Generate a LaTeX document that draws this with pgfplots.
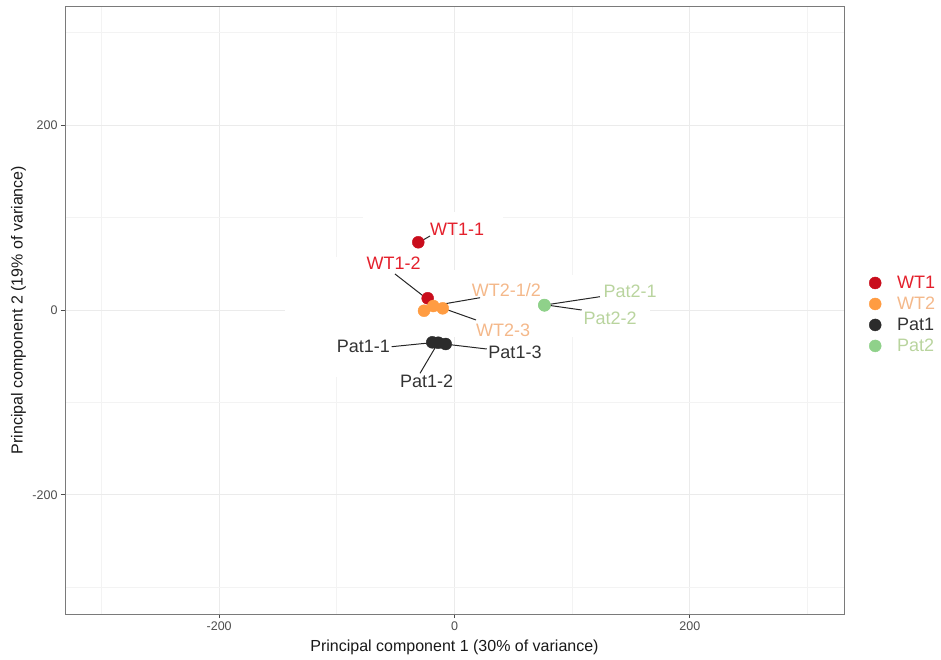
\documentclass[border=0pt]{standalone}
\usepackage{fontspec}
\setmainfont{Liberation Sans}
\usepackage{pgfplots}
\pgfplotsset{compat=1.18}
\definecolor{wtonep}{HTML}{C90D1C}
\definecolor{wtonet}{HTML}{E4202C}
\definecolor{wttwop}{HTML}{FF9C42}
\definecolor{wttwot}{HTML}{F4B88A}
\definecolor{patonep}{HTML}{2B2B2B}
\definecolor{patonet}{HTML}{333333}
\definecolor{pattwop}{HTML}{8FD18A}
\definecolor{pattwot}{HTML}{B9D49E}
\definecolor{tickgray}{HTML}{4D4D4D}
\definecolor{gridgray}{HTML}{EBEBEB}
\definecolor{minorgray}{HTML}{F3F3F3}
\definecolor{bordergray}{HTML}{7A7A7A}
\newcommand{\lbl}{\fontsize{18}{21}\selectfont}
\begin{document}
\begin{tikzpicture}[x=1pt,y=1pt]
\begin{axis}[
  at={(65pt,45pt)}, anchor=south west,
  scale only axis, width=779pt, height=608pt,
  xmin=-331, xmax=331, ymin=-329, ymax=329,
  xtick={-200,0,200}, ytick={-200,0,200},
  minor xtick={-300,-100,100,300}, minor ytick={-300,-100,100,300},
  grid=both,
  major grid style={draw=gridgray, line width=1pt},
  minor grid style={draw=minorgray, line width=0.7pt},
  axis line style={draw=bordergray, line width=0.9pt},
  tick align=outside, major tick length=4pt, minor tick length=0pt,
  tick style={draw=tickgray, line width=0.8pt},
  xtick pos=bottom, ytick pos=left,
  ticklabel style={font=\fontsize{12.5}{14}\selectfont, text=tickgray},
  /pgf/number format/assume math mode=true,
  xlabel={Principal component 1 (30\% of variance)},
  ylabel={Principal component 2 (19\% of variance)},
  label style={font=\fontsize{16}{19}\selectfont, text=black!90, inner sep=0pt},
  xlabel style={at={(axis description cs:0.5,0)}, anchor=north, yshift=-26pt},
  ylabel style={at={(axis description cs:-0.0597,0.5)}, anchor=center},
  legend style={draw=none, fill=none, at={(1,0.5)}, anchor=west, xshift=23pt, yshift=-4.5pt,
    font=\fontsize{18}{21}\selectfont, inner sep=0pt, row sep=3pt},
  legend cell align=left,
  legend image code/.code={\path[draw=none,fill=none] (0pt,-5pt) rectangle (28pt,5pt); \draw[#1] plot coordinates {(8pt,0pt)};},
]
% white patches over grid lines
\fill[white] (axis cs:-77.8,95.2) rectangle (axis cs:41.2,106.0);
\fill[white] (axis cs:-144.1,-5) rectangle (axis cs:166.2,5);
\fill[white] (axis cs:-105,-72.5) rectangle (axis cs:-95,57.4);
\fill[white] (axis cs:-5,-29.2) rectangle (axis cs:5,43.3);
\fill[white] (axis cs:95,-29.2) rectangle (axis cs:105,37.9);

\addplot[only marks, mark=*, mark size=6pt, color=wtonep] coordinates {(-30.8,73.3) (-22.8,12.7)};
\addlegendentry{\textcolor{wtonet}{WT1}}
\addplot[only marks, mark=*, mark size=6pt, color=wttwop] coordinates {(-25.9,-0.8) (-18.0,4.3) (-10.0,1.8)};
\addlegendentry{\textcolor{wttwot}{WT2}}
\addplot[only marks, mark=*, mark size=6pt, color=patonep] coordinates {(-18.9,-35.0) (-13.8,-35.4) (-7.5,-36.8)};
\addlegendentry{\textcolor{patonet}{Pat1}}
\addplot[only marks, mark=*, mark size=6pt, color=pattwop] coordinates {(76.3,5.4) (76.5,5.0)};
\addlegendentry{\textcolor{pattwot}{Pat2}}

% label segments
\addplot[black!85, line width=1pt, forget plot] coordinates {(-29.3,73.9) (-20.8,80.1)};
\addplot[black!85, line width=1pt, forget plot] coordinates {(-50.6,39.0) (-25.1,13.7)};
\addplot[black!85, line width=1pt, forget plot] coordinates {(-19.4,4.3) (21.7,13.3)};
\addplot[black!85, line width=1pt, forget plot] coordinates {(-15.1,4.3) (18.3,-10.8)};
\addplot[black!85, line width=1pt, forget plot] coordinates {(-53.4,-39.7) (-19.4,-35.4)};
\addplot[black!85, line width=1pt, forget plot] coordinates {(-6.6,-37.1) (27.4,-42.2)};
\addplot[black!85, line width=1pt, forget plot] coordinates {(-29.3,-68.5) (-14.6,-36.8)};
\addplot[black!85, line width=1pt, forget plot] coordinates {(76.9,5.4) (123.6,14.4)};
\addplot[black!85, line width=1pt, forget plot] coordinates {(78.4,5.4) (108.1,0)};

% labels
\begin{scope}[every node/.style={font=\lbl, inner sep=0pt, text height=12.5pt, text depth=0pt}]
\node[anchor=west, text=wtonet] at (axis cs:-20.8,87.3) {WT1-1};
\node[anchor=center, text=wtonet] at (axis cs:-51.7,50.5) {WT1-2};
\node[anchor=west, text=wttwot] at (axis cs:14.6,21.6) {WT2-1/2};
\node[anchor=west, text=wttwot] at (axis cs:18.3,-21.6) {WT2-3};
\node[anchor=east, text=patonet] at (axis cs:-54.8,-39.7) {Pat1-1};
\node[anchor=west, text=patonet] at (axis cs:28.7,-45.8) {Pat1-3};
\node[anchor=center, text=patonet] at (axis cs:-23.6,-76.8) {Pat1-2};
\node[anchor=west, text=pattwot] at (axis cs:126.5,20.6) {Pat2-1};
\node[anchor=west, text=pattwot] at (axis cs:109.5,-9.0) {Pat2-2};
\end{scope}
\end{axis}
\pgfresetboundingbox
\useasboundingbox (0,0) rectangle (941,659);
\end{tikzpicture}
\end{document}
